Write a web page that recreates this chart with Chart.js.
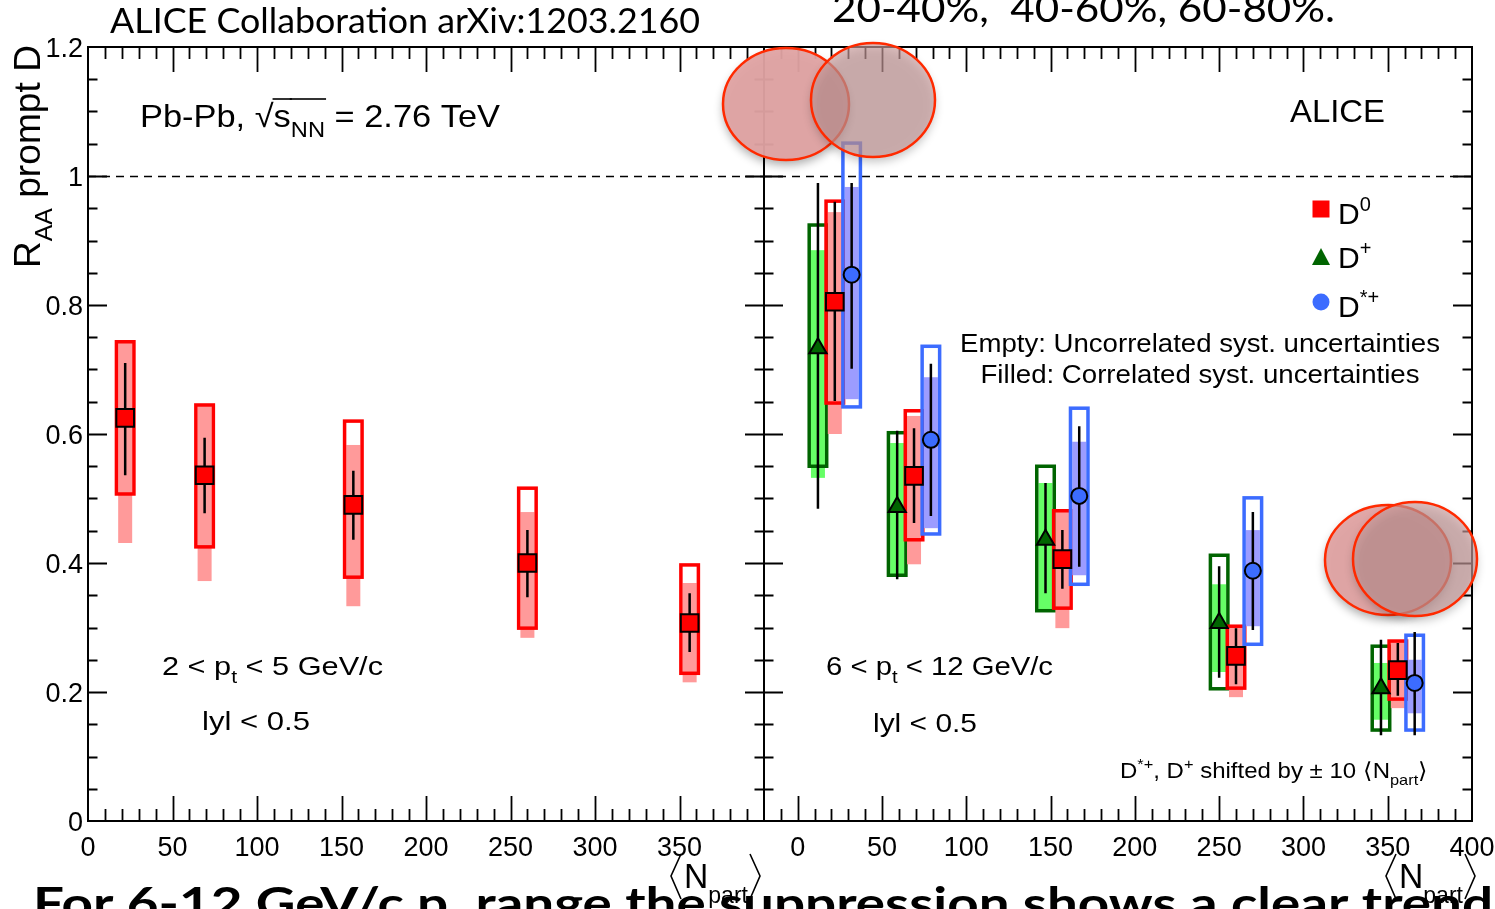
<!DOCTYPE html>
<html>
<head>
<meta charset="utf-8">
<script src="https://cdn.jsdelivr.net/npm/chart.js@4.4.1/dist/chart.umd.min.js"></script>
<style>
html,body{margin:0;padding:0;background:#fff;}
#wrap{position:relative;width:1495px;height:909px;overflow:hidden;background:#fff;}
canvas{position:absolute;left:0;top:0;}
</style>
</head>
<body>
<div id="wrap">
  <canvas id="cL" width="1495" height="909"></canvas>
  <canvas id="cR" width="1495" height="909"></canvas>
</div>
<script>
// ---- data ----
const nPart=[22,69,157,260,356];
const shift=10; // D+ at -10, D*+ at +10

// left panel: D0, 2<pt<5
const lowD0=[0.625,0.536,0.490,0.400,0.307];
const lowD0Stat=[[0.536,0.710],[0.477,0.594],[0.436,0.543],[0.347,0.451],[0.262,0.353]];
const lowD0Unc=[[0.507,0.743],[0.425,0.645],[0.378,0.620],[0.299,0.516],[0.229,0.397]];
const lowD0Cor=[[0.431,0.743],[0.372,0.645],[0.333,0.583],[0.284,0.479],[0.215,0.369]];

// right panel: 6<pt<12
const hiD0=[0.805,0.535,0.406,0.256,0.234];
const hiD0Stat=[[0.651,0.960],[0.462,0.609],[0.360,0.451],[0.212,0.299],[0.194,0.276]];
const hiD0Unc=[[0.648,0.961],[0.436,0.636],[0.330,0.481],[0.206,0.302],[0.189,0.279]];
const hiD0Cor=[[0.600,0.944],[0.398,0.628],[0.299,0.481],[0.192,0.302],[0.175,0.279]];

const hiDp=[0.733,0.487,0.436,0.307,0.206];
const hiDpStat=[[0.484,0.989],[0.375,0.605],[0.353,0.524],[0.222,0.395],[0.133,0.281]];
const hiDpUnc=[[0.550,0.924],[0.381,0.602],[0.326,0.550],[0.205,0.412],[0.141,0.271]];
const hiDpCor=[[0.532,0.885],[0.381,0.586],[0.326,0.524],[0.231,0.367],[0.157,0.245]];

const hiDs=[0.847,0.591,0.504,0.388,0.214];
const hiDsStat=[[0.701,0.989],[0.473,0.709],[0.394,0.612],[0.296,0.479],[0.133,0.293]];
const hiDsUnc=[[0.642,1.051],[0.445,0.736],[0.367,0.640],[0.274,0.501],[0.141,0.288]];
const hiDsCor=[[0.654,0.983],[0.454,0.688],[0.381,0.588],[0.302,0.451],[0.167,0.250]];

const yTicks=[0,0.2,0.4,0.6,0.8,1,1.2];
const yTickLabels=['0','0.2','0.4','0.6','0.8','1','1.2'];
const xTicksL=[0,50,100,150,200,250,300,350];
const xTicksR=[0,50,100,150,200,250,300,350,400];

// ---- styles ----
const ROOT='"Liberation Sans", Arial, sans-serif';
const SLIDE='Lato, "Open Sans", sans-serif';
const COL={
  d0:{line:'#ff0000',fill:'#ff9a9a',mark:'#ff0000'},
  dp:{line:'#006400',fill:'#66ff66',mark:'#006400'},
  ds:{line:'#3c6cff',fill:'#9c9cff',mark:'#3c6cff'}
};

// text with sub/superscripts, optionally stretched to a width
function rich(ctx,runs,x,y,size,opt={}){
  const fam=opt.family||ROOT, wt=opt.weight||'normal';
  const fontFor=r=>`${wt} ${(r.sub||r.sup)?Math.round(size*0.68):size}px ${fam}`;
  let total=0;
  runs.forEach(r=>{ctx.font=fontFor(r);r.w=ctx.measureText(r.t).width;total+=r.w;});
  const sx=opt.width?opt.width/total:1;
  ctx.save();
  ctx.translate(x,y);
  if(opt.rot) ctx.rotate(opt.rot);
  ctx.scale(sx,1);
  let cx=opt.align==='center'?-total/2:opt.align==='right'?-total:0;
  ctx.fillStyle=opt.color||'#000';
  ctx.textAlign='left';ctx.textBaseline='alphabetic';
  runs.forEach(r=>{
    ctx.font=fontFor(r);
    const dy=r.sub?size*(opt.subDrop||0.32):r.sup?-size*0.42:0;
    ctx.fillText(r.t,cx,dy);
    if(r.over) ctx.fillRect(cx-1,-size*0.9,r.w+2,1.6);
    cx+=r.w;
  });
  ctx.restore();
}

function nPartLabel(ctx,x){
  ctx.save();
  ctx.strokeStyle='#000';ctx.lineWidth=1.6;
  ctx.beginPath();ctx.moveTo(x+11,854);ctx.lineTo(x+1,876);ctx.lineTo(x+11,899);ctx.stroke();
  rich(ctx,[{t:'N'},{t:'part',sub:true}],x+14,888,35,{width:64,subDrop:0.42});
  ctx.beginPath();ctx.moveTo(x+80,854);ctx.lineTo(x+90,876);ctx.lineTo(x+80,899);ctx.stroke();
  ctx.restore();
}

function drawFrame(chart,cfg){
  const {ctx,chartArea:a,scales:{x,y}}=chart;
  ctx.save();
  ctx.strokeStyle='#000';ctx.lineWidth=2;
  ctx.strokeRect(a.left,a.top,a.right-a.left,a.bottom-a.top);
  ctx.lineWidth=1.8;
  ctx.beginPath();
  for(let v=Math.ceil(x.min/10)*10;v<x.max;v+=10){
    if(v<=x.min) continue;
    const px=Math.round(x.getPixelForValue(v))+0.5;
    const len=(v%50===0)?25:12;
    ctx.moveTo(px,a.bottom);ctx.lineTo(px,a.bottom-len);
    ctx.moveTo(px,a.top);ctx.lineTo(px,a.top+len);
  }
  for(let i=1;i<24;i++){
    const v=i*0.05;
    const py=Math.round(y.getPixelForValue(v))+0.5;
    const len=(i%4===0)?19:9.5;
    if(cfg.leftTicks){ctx.moveTo(a.left,py);ctx.lineTo(a.left+len,py);}
    ctx.moveTo(a.right,py);ctx.lineTo(a.right-len,py);
  }
  ctx.stroke();
  // dashed line at 1
  ctx.setLineDash([8,6]);ctx.lineWidth=1.6;
  ctx.beginPath();
  const p1=Math.round(y.getPixelForValue(1))+0.5;
  ctx.moveTo(a.left,p1);ctx.lineTo(a.right,p1);ctx.stroke();
  ctx.setLineDash([]);
  // tick labels
  ctx.fillStyle='#000';ctx.font=`27px ${ROOT}`;
  ctx.textAlign='center';ctx.textBaseline='alphabetic';
  cfg.xTicks.forEach(v=>ctx.fillText(String(v),x.getPixelForValue(v),856));
  if(cfg.yLabels){
    ctx.textAlign='right';ctx.textBaseline='middle';
    yTicks.forEach((v,i)=>ctx.fillText(yTickLabels[i],83,y.getPixelForValue(v)+3));
  }
  ctx.restore();
}

function drawUnc(chart,xs,stat,unc,cor,col){
  const {ctx,scales:{x,y}}=chart;
  xs.forEach((xv,i)=>{
    const px=x.getPixelForValue(xv);
    const cT=y.getPixelForValue(cor[i][1]),cB=y.getPixelForValue(cor[i][0]);
    ctx.fillStyle=col.fill;
    ctx.fillRect(px-7,cT,14,cB-cT);
    const uT=y.getPixelForValue(unc[i][1]),uB=y.getPixelForValue(unc[i][0]);
    ctx.strokeStyle=col.line;ctx.lineWidth=3.5;
    ctx.strokeRect(px-8.75,uT,17.5,uB-uT);
  });
}
function drawStat(chart,xs,stat){
  const {ctx,scales:{x,y}}=chart;
  ctx.strokeStyle='#000';ctx.lineWidth=2.5;
  ctx.beginPath();
  xs.forEach((xv,i)=>{
    const px=x.getPixelForValue(xv);
    ctx.moveTo(px,y.getPixelForValue(stat[i][1]));
    ctx.lineTo(px,y.getPixelForValue(stat[i][0]));
  });
  ctx.stroke();
}

const xD0=nPart.slice();
const xDp=nPart.map(v=>v-shift);
const xDs=nPart.map(v=>v+shift);

const leftPlugin={
  id:'leftPanel',
  beforeDatasetsDraw(chart){
    drawFrame(chart,{leftTicks:true,yLabels:true,xTicks:xTicksL});
    chart.ctx.save();
    drawUnc(chart,xD0,lowD0Stat,lowD0Unc,lowD0Cor,COL.d0);
    drawStat(chart,xD0,lowD0Stat);
    chart.ctx.restore();
  },
  afterDraw(chart){
    const ctx=chart.ctx;
    rich(ctx,[{t:'2 < p'},{t:'t',sub:true},{t:' < 5 GeV/c'}],162,675,26,{width:221});
    rich(ctx,[{t:'lyl < 0.5'}],202,730,26,{width:108});
  }
};

function ellipse(ctx,cx,cy,rx,ry,fill){
  ctx.save();
  ctx.shadowColor='rgba(0,0,0,0.35)';ctx.shadowBlur=10;ctx.shadowOffsetY=5;
  ctx.beginPath();ctx.ellipse(cx,cy,rx,ry,0,0,Math.PI*2);
  ctx.fillStyle=fill;ctx.fill();
  ctx.restore();
  ctx.save();
  ctx.beginPath();ctx.ellipse(cx,cy,rx,ry,0,0,Math.PI*2);
  ctx.strokeStyle='#ff2a00';ctx.lineWidth=2.5;ctx.stroke();
  ctx.restore();
}

const rightPlugin={
  id:'rightPanel',
  beforeDatasetsDraw(chart){
    drawFrame(chart,{leftTicks:true,yLabels:false,xTicks:xTicksR});
    const ctx=chart.ctx;
    ctx.save();
    drawUnc(chart,xDp,hiDpStat,hiDpUnc,hiDpCor,COL.dp);
    drawUnc(chart,xD0,hiD0Stat,hiD0Unc,hiD0Cor,COL.d0);
    drawUnc(chart,xDs,hiDsStat,hiDsUnc,hiDsCor,COL.ds);
    drawStat(chart,xDp,hiDpStat);
    drawStat(chart,xD0,hiD0Stat);
    drawStat(chart,xDs,hiDsStat);
    ctx.restore();
  },
  afterDraw(chart){
    const ctx=chart.ctx;
    // panel texts
    rich(ctx,[{t:'6 < p'},{t:'t',sub:true},{t:' < 12 GeV/c'}],826,675,26,{width:227});
    rich(ctx,[{t:'lyl < 0.5'}],873,732,26,{width:104});
    rich(ctx,[{t:'ALICE'}],1290,122,32,{width:95});
    rich(ctx,[{t:'Empty: Uncorrelated syst. uncertainties'}],1200,352,26,{width:480,align:'center'});
    rich(ctx,[{t:'Filled: Correlated syst. uncertainties'}],1200,383,26,{width:439,align:'center'});
    rich(ctx,[{t:'D'},{t:'*+',sup:true},{t:', D'},{t:'+',sup:true},{t:' shifted by \u00b1 10 \u27e8N'},{t:'part',sub:true},{t:'\u27e9'}],1120,778,22,{width:308});
    // legend
    ctx.save();
    ctx.fillStyle=COL.d0.mark;ctx.fillRect(1312.5,200.5,17,17);
    ctx.fillStyle=COL.dp.mark;ctx.beginPath();ctx.moveTo(1321,248);ctx.lineTo(1330,265);ctx.lineTo(1312,265);ctx.closePath();ctx.fill();
    ctx.fillStyle=COL.ds.mark;ctx.beginPath();ctx.arc(1321,302,8.5,0,Math.PI*2);ctx.fill();
    ctx.restore();
    rich(ctx,[{t:'D'},{t:'0',sup:true}],1338,224,30);
    rich(ctx,[{t:'D'},{t:'+',sup:true}],1338,268,30);
    rich(ctx,[{t:'D'},{t:'*+',sup:true}],1338,317,30);
    // frame-level texts
    rich(ctx,[{t:'Pb-Pb, '},{t:'\u221a'},{t:'s',over:true},{t:'NN',sub:true,over:true},{t:' = 2.76 TeV'}],140,127,32,{width:360});
    rich(ctx,[{t:'R'},{t:'AA',sub:true},{t:' prompt D'}],40,268,36,{rot:-Math.PI/2,width:223});
    nPartLabel(ctx,670);
    nPartLabel(ctx,1385);
    // slide texts
    rich(ctx,[{t:'ALICE Collaboration arXiv:1203.2160'}],110,33,34,{family:SLIDE,width:590});
    rich(ctx,[{t:'20-40%,  40-60%, 60-80%.'}],832,22,38,{family:SLIDE,width:503});
    rich(ctx,[{t:'For 6-12 GeV/c p'},{t:'t',sub:true},{t:' range the suppression shows a clear trend'}],33,919,44,{family:SLIDE,weight:'bold',width:1460});
    // overlay ellipses
    ellipse(ctx,786,104,63,56,'rgba(224,163,163,0.95)');
    ellipse(ctx,873,100,62,57,'rgba(200,155,155,0.66)');
    ellipse(ctx,1388,560,63,55,'rgba(224,163,163,0.95)');
    ellipse(ctx,1415,559,62,57,'rgba(200,155,155,0.66)');
  }
};

function markerSet(label,xs,ys,style,r,col){
  return {label,data:xs.map((x,i)=>({x,y:ys[i]})),pointStyle:style,pointRadius:r,
    pointBackgroundColor:col,pointBorderColor:'#000',pointBorderWidth:2,showLine:false};
}

function baseOptions(padL,padR,xmin){
  return {
    responsive:false,animation:false,devicePixelRatio:1,events:[],
    layout:{padding:{left:padL,right:padR,top:47,bottom:909-821}},
    scales:{
      x:{type:'linear',min:xmin,max:400,display:false},
      y:{type:'linear',min:0,max:1.2,display:false}
    },
    plugins:{legend:{display:false},tooltip:{enabled:false}}
  };
}

new Chart(document.getElementById('cL'),{
  type:'scatter',
  data:{datasets:[markerSet('D0',xD0,lowD0,'rect',12.5,COL.d0.mark)]},
  options:baseOptions(88,1495-764,0),
  plugins:[leftPlugin]
});

new Chart(document.getElementById('cR'),{
  type:'scatter',
  data:{datasets:[
    markerSet('D+',xDp,hiDp,'triangle',10,COL.dp.mark),
    markerSet('D0',xD0,hiD0,'rect',12.5,COL.d0.mark),
    markerSet('D*+',xDs,hiDs,'circle',8,COL.ds.mark)
  ]},
  options:baseOptions(764,1495-1472,-20),
  plugins:[rightPlugin]
});
</script>
</body>
</html>
